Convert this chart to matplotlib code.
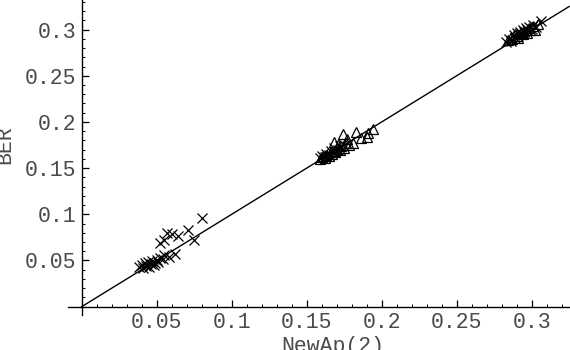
import matplotlib
matplotlib.use("Agg")
import matplotlib.pyplot as plt
from matplotlib.ticker import MultipleLocator, FixedLocator, FixedFormatter

# tick values / labels
tick_vals = [0.05, 0.1, 0.15, 0.2, 0.25, 0.3]
tick_labels = ["0.05", "0.1", "0.15", "0.2", "0.25", "0.3"]

# crosses (NewAp(2), BER)
cross_x = [0.038, 0.040, 0.041, 0.042, 0.043, 0.044, 0.045, 0.046, 0.047, 0.048,
           0.049, 0.050, 0.051, 0.052, 0.054, 0.055, 0.058, 0.062,
           0.052, 0.055, 0.057, 0.060, 0.064, 0.071, 0.080, 0.075,
           0.159, 0.160, 0.162, 0.163, 0.165, 0.166, 0.168, 0.169, 0.171, 0.172, 0.174,
           0.283, 0.285, 0.286, 0.288, 0.289, 0.290, 0.291, 0.292, 0.293, 0.294,
           0.295, 0.296, 0.297, 0.298, 0.300, 0.301, 0.303, 0.306]
cross_y = [0.043, 0.045, 0.042, 0.047, 0.044, 0.048, 0.043, 0.046, 0.049, 0.045,
           0.047, 0.050, 0.048, 0.053, 0.052, 0.056, 0.054, 0.057,
           0.069, 0.072, 0.080, 0.079, 0.076, 0.083, 0.096, 0.072,
           0.161, 0.163, 0.162, 0.165, 0.164, 0.168, 0.172, 0.167, 0.170, 0.174, 0.176,
           0.287, 0.290, 0.288, 0.294, 0.291, 0.296, 0.293, 0.297, 0.295, 0.300,
           0.297, 0.302, 0.299, 0.303, 0.301, 0.305, 0.303, 0.309]

# triangles
tri_x = [0.159, 0.160, 0.161, 0.162, 0.163, 0.164, 0.165, 0.166, 0.167, 0.168,
         0.169, 0.170, 0.172, 0.173, 0.175, 0.176, 0.178, 0.181, 0.183, 0.186,
         0.190, 0.191, 0.194, 0.174, 0.168, 0.171, 0.177,
         0.284, 0.286, 0.287, 0.289, 0.290, 0.291, 0.293, 0.294, 0.295, 0.297,
         0.298, 0.299, 0.301, 0.302, 0.304]
tri_y = [0.160, 0.162, 0.163, 0.161, 0.164, 0.166, 0.163, 0.167, 0.165, 0.169,
         0.167, 0.171, 0.170, 0.174, 0.172, 0.177, 0.175, 0.177, 0.189, 0.183,
         0.184, 0.188, 0.192, 0.187, 0.178, 0.175, 0.181,
         0.289, 0.292, 0.290, 0.295, 0.293, 0.291, 0.297, 0.295, 0.298, 0.296,
         0.302, 0.299, 0.304, 0.300, 0.306]

line_x = [0.0, 0.325]

text_gray = "#4a4a4a"

fig = plt.figure(figsize=(5.7, 3.5), dpi=100)
ax = fig.add_axes([0.1196, 0.1, 0.8803, 0.9])
ax.set_xlim(-0.009, 0.3255)
ax.set_ylim(-0.009, 0.332)

ax.plot(line_x, line_x, color="black", lw=1.0, zorder=2)
ax.plot(cross_x, cross_y, ls="none", marker="x", ms=6.5, mew=0.9, color="black", zorder=3)
ax.plot(tri_x, tri_y, ls="none", marker="^", ms=6.5, mew=0.9, mfc="none", color="black", zorder=3)

for s in ["top", "right"]:
    ax.spines[s].set_visible(False)
ax.spines["left"].set_position(("data", 0))
ax.spines["bottom"].set_position(("data", 0))
ax.spines["left"].set_linewidth(1.0)
ax.spines["bottom"].set_linewidth(1.0)

for axis in (ax.xaxis, ax.yaxis):
    axis.set_major_locator(FixedLocator(tick_vals))
    axis.set_major_formatter(FixedFormatter(tick_labels))
    axis.set_minor_locator(MultipleLocator(0.01))

ax.tick_params(which="major", direction="in", length=5, width=0.9,
               labelsize=15.5, labelcolor=text_gray)
ax.tick_params(which="minor", direction="in", length=2.5, width=0.7)
ax.tick_params(axis="x", which="major", pad=4)
ax.tick_params(axis="y", which="major", pad=4)
for lab in ax.get_xticklabels() + ax.get_yticklabels():
    lab.set_family("Liberation Mono")

# axis labels sit partly off the canvas, as in the reference
fig.text(0.008, 0.586, "BER", rotation=90, ha="center", va="center",
         family="Liberation Mono", fontsize=15.5, color=text_gray)
fig.text(0.583, -0.005, "NewAp(2)", ha="center", va="baseline",
         family="Liberation Mono", fontsize=15.5, color=text_gray)

fig.savefig("out.png", dpi=100)
